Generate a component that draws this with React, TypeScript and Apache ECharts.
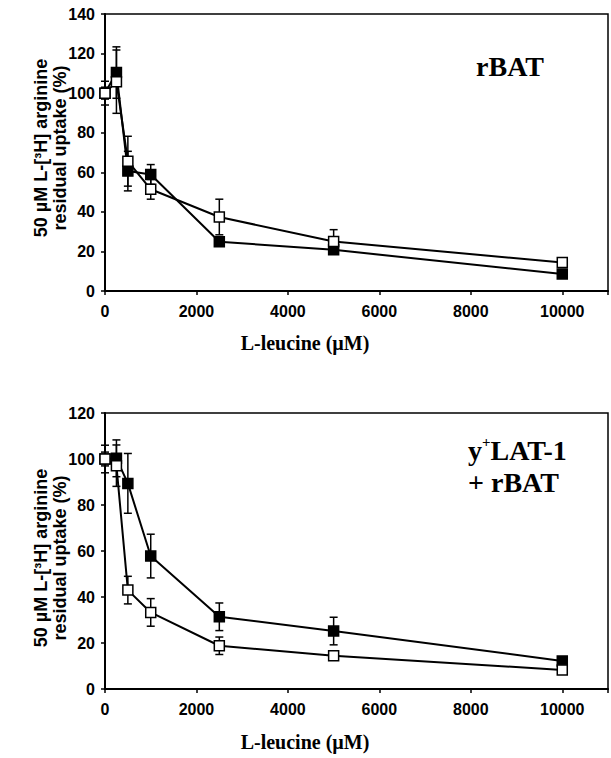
import React, { useEffect, useRef } from "react";
import * as echarts from "echarts";

// Shared x values (L-leucine, µM)
const doses = [0, 250, 500, 1000, 2500, 5000, 10000];
const xTicks = [0, 2000, 4000, 6000, 8000, 10000];

// Top panel: rBAT
const rbatFilled = [100, 110.4, 60.6, 58.9, 24.9, 20.8, 8.6];
const rbatFilledErr = [3, 13, 10, 5, 2, 1, 1];
const rbatOpen = [100, 105.8, 65.6, 51.4, 37.4, 25, 14.4];
const rbatOpenErr = [6, 16, 12.6, 5, 9, 6, 1];

// Bottom panel: y+LAT-1 + rBAT
const ylatFilled = [100, 100.3, 89.4, 57.8, 31.4, 25.2, 12.2];
const ylatFilledErr = [3, 8, 13, 9.5, 6, 6, 1];
const ylatOpen = [100, 97.1, 43, 33.3, 18.8, 14.5, 8.3];
const ylatOpenErr = [6, 9, 6, 6, 3.8, 1, 1];

const sans = "'Liberation Sans', Arial, sans-serif";
const serif = "'Liberation Serif', 'Times New Roman', 'DejaVu Serif', serif";

function pts(vals: number[]) {
  return doses.map((d, i) => [d, vals[i]]);
}
function errs(vals: number[], e: number[]) {
  return doses.map((d, i) => [d, vals[i] - e[i], vals[i] + e[i]]);
}

const errRender = (params: any, api: any) => {
  const x = api.value(0);
  const lo = api.value(1);
  const hi = api.value(2);
  const p1 = api.coord([x, hi]);
  const p2 = api.coord([x, lo]);
  const w = 4;
  const st = { stroke: "#000", lineWidth: 1.5 };
  return {
    type: "group",
    children: [
      { type: "line", shape: { x1: p1[0], y1: p1[1], x2: p2[0], y2: p2[1] }, style: st },
      { type: "line", shape: { x1: p1[0] - w, y1: p1[1], x2: p1[0] + w, y2: p1[1] }, style: st },
      { type: "line", shape: { x1: p2[0] - w, y1: p2[1], x2: p2[0] + w, y2: p2[1] }, style: st },
    ],
  };
};

export default function App() {
  const ref = useRef<HTMLDivElement>(null);
  useEffect(() => {
    if (!ref.current) return;
    const chart = echarts.init(ref.current, null, { renderer: "svg" });
    const axisLabel = { color: "#000", fontFamily: sans, fontWeight: "bold", fontSize: 16 };
    const mkX = (gi: number) => ({
      type: "value",
      gridIndex: gi,
      min: 0,
      max: 11000,
      interval: 2000,
      axisLine: { show: true, lineStyle: { color: "#000", width: 2 } },
      axisTick: { show: true, inside: false, length: 4, lineStyle: { color: "#000", width: 1.5 } },
      axisLabel: { ...axisLabel, margin: 12, formatter: (v: number) => (xTicks.includes(v) ? String(v) : "") },
      splitLine: { show: false },
    });
    const mkY = (gi: number, max: number) => ({
      type: "value",
      gridIndex: gi,
      min: 0,
      max,
      interval: 20,
      axisLine: { show: true, lineStyle: { color: "#000", width: 2 } },
      axisTick: { show: true, inside: false, length: 4, lineStyle: { color: "#000", width: 1.5 } },
      axisLabel: { ...axisLabel, margin: 10 },
      splitLine: { show: false },
    });
    const lineSeries = (gi: number, data: number[][], filled: boolean) => ({
      type: "line",
      xAxisIndex: gi,
      yAxisIndex: gi,
      data,
      symbol: "rect",
      symbolSize: 10,
      lineStyle: { color: "#000", width: 2 },
      itemStyle: { color: filled ? "#000" : "#fff", borderColor: "#000", borderWidth: 1.5 },
      z: filled ? 3 : 4,
    });
    const errSeries = (gi: number, data: number[][]) => ({
      type: "custom",
      xAxisIndex: gi,
      yAxisIndex: gi,
      data,
      renderItem: errRender,
      z: 2,
    });
    const yTitle = (x: number, y: number, text: string) => ({
      type: "text",
      x,
      y,
      rotation: Math.PI / 2,
      style: {
        text,
        fill: "#000",
        font: `bold 18px ${sans}`,
        textAlign: "center",
        textVerticalAlign: "middle",
      },
    });
    const label = (x: number, y: number, text: string, size: number, align: string) => ({
      type: "text",
      x,
      y,
      style: {
        text,
        fill: "#000",
        font: `bold ${size}px ${serif}`,
        textAlign: align,
        textVerticalAlign: "middle",
      },
    });
    chart.setOption({
      animation: false,
      backgroundColor: "#fff",
      grid: [
        { left: 105, top: 14, width: 511, height: 277, show: true, borderColor: "#000", borderWidth: 1.5 },
        { left: 105, top: 413, width: 511, height: 276, show: true, borderColor: "#000", borderWidth: 1.5 },
      ],
      xAxis: [mkX(0), mkX(1)],
      yAxis: [mkY(0, 140), mkY(1, 120)],
      series: [
        errSeries(0, errs(rbatFilled, rbatFilledErr)),
        errSeries(0, errs(rbatOpen, rbatOpenErr)),
        lineSeries(0, pts(rbatFilled), true),
        lineSeries(0, pts(rbatOpen), false),
        errSeries(1, errs(ylatFilled, ylatFilledErr)),
        errSeries(1, errs(ylatOpen, ylatOpenErr)),
        lineSeries(1, pts(ylatFilled), true),
        lineSeries(1, pts(ylatOpen), false),
      ],
      graphic: [
        yTitle(41, 148, "50 µM L-[³H] arginine"),
        yTitle(60, 148, "residual uptake (%)"),
        yTitle(41, 558, "50 µM L-[³H] arginine"),
        yTitle(60, 558, "residual uptake (%)"),
        label(305, 343, "L-leucine (µM)", 20, "center"),
        label(305, 742, "L-leucine (µM)", 20, "center"),
        label(510, 66, "rBAT", 28, "center"),
        {
          type: "text",
          x: 468,
          y: 448,
          style: {
            text: "{b|y}{s|+}{b|LAT-1}",
            textAlign: "left",
            textVerticalAlign: "middle",
            rich: {
              b: { font: `bold 28px ${serif}`, fill: "#000", color: "#000", lineHeight: 32, verticalAlign: "bottom" },
              s: { font: `bold 15px ${serif}`, fill: "#000", color: "#000", lineHeight: 32, verticalAlign: "top", padding: [2, 0, 0, 0] },
            },
          },
        },
        label(468, 482, "+ rBAT", 28, "left"),
      ],
    });
    return () => chart.dispose();
  }, []);
  return (
    <div
      ref={ref}
      style={{ position: "absolute", left: 0, top: 0, width: 611, height: 758 }}
    />
  );
}
